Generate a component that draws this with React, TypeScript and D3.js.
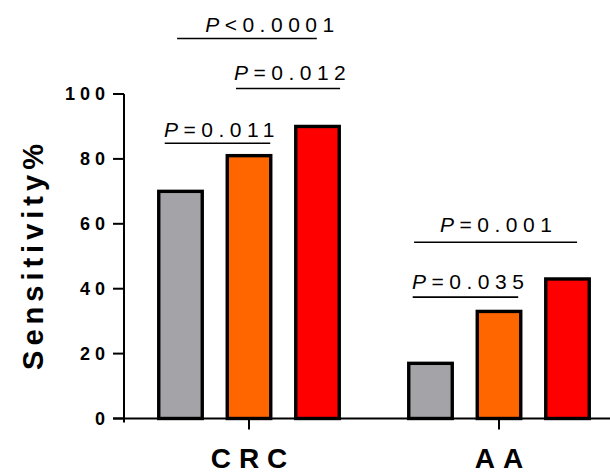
import React from 'react';
import * as d3 from 'd3';

// groups and series
const groups = ['CRC', 'AA'];
const series = ['s1', 's2', 's3'];
const colors = ['#a4a3a8', '#ff6600', '#ff0000'];

// sensitivity % per group, one value per series
const crcValues = [70, 81, 90];
const aaValues = [17, 33, 43];
const yTicks = [0, 20, 40, 60, 80, 100];

// p-value brackets: from/to/textX in bar steps relative to group centre, y in data units
const annGroup = ['CRC', 'CRC', 'CRC', 'AA', 'AA'];
const annOp = ['<', '=', '=', '=', '='];
const annP = ['0.0001', '0.012', '0.011', '0.001', '0.035'];
const annFrom = [-1.05, -0.19, -1.23, -1.24, -1.26];
const annTo = [0.99, 1.33, 0.31, 1.14, 0.28];
const annTextX = [-0.64, -0.22, -1.24, -0.86, -1.27];
const annLineY = [117.1, 101.7, 84.8, 54.3, 37.4];
const annTextY = [119.2, 104.2, 86.7, 57.4, 39.8];

const W = 610, H = 474;
const font = "Arial, 'Liberation Sans', Helvetica, sans-serif";

export default function App() {
  const x0 = d3.scaleBand().domain(groups).range([124, 624]);
  const x1 = d3.scaleBand().domain(series).range([-102.75, 102.75])
    .paddingInner(0.365).paddingOuter(0.1825);
  const y = d3.scaleLinear().domain([0, 100]).range([418.5, 94]);
  const off = d3.scaleLinear().domain([0, 1]).range([0, x1.step()]);

  const data = [crcValues, aaValues];
  const gc = (g: string) => (x0(g) as number) + x0.bandwidth() / 2;

  return (
    <svg width={W} height={H} style={{ position: 'absolute', left: 0, top: 0 }} fontFamily={font}>
      {/* bars */}
      {groups.map((g, gi) => (
        <g key={g} transform={`translate(${gc(g)},0)`}>
          {data[gi].map((v, i) => (
            <rect key={i}
              x={x1(series[i])}
              y={y(v)}
              width={x1.bandwidth()}
              height={y(0) - y(v)}
              fill={colors[i]}
              stroke="#000"
              strokeWidth={3.4} />
          ))}
        </g>
      ))}

      {/* y axis */}
      <line x1={124} x2={124} y1={y(100)} y2={y(0) + 4} stroke="#000" strokeWidth={2} />
      {yTicks.map(t => (
        <g key={t}>
          <line x1={113} x2={124} y1={y(t)} y2={y(t)} stroke="#000" strokeWidth={2} />
          <text x={105} y={y(t)} dy="0.36em" textAnchor="end" fontSize={18} fontWeight="bold"
            letterSpacing={5} dx={5}>{t}</text>
        </g>
      ))}

      {/* x axis */}
      <line x1={113} x2={W} y1={y(0)} y2={y(0)} stroke="#000" strokeWidth={2} />
      {groups.map(g => (
        <g key={g}>
          <line x1={gc(g)} x2={gc(g)} y1={y(0)} y2={y(0) + 11} stroke="#000" strokeWidth={2} />
          <text x={gc(g)} dx={4} y={468} textAnchor="middle" fontSize={28} fontWeight="bold"
            letterSpacing={8}>{g}</text>
        </g>
      ))}

      {/* y label */}
      <text transform={`translate(43,257) rotate(-90)`} textAnchor="middle" fontSize={29}
        fontWeight="bold" letterSpacing={5} dx={2.5}>Sensitivity%</text>

      {/* p-value annotations */}
      {annP.map((p, i) => {
        const c = gc(annGroup[i]);
        return (
          <g key={i}>
            <line x1={c + off(annFrom[i])} x2={c + off(annTo[i])} y1={y(annLineY[i])} y2={y(annLineY[i])}
              stroke="#000" strokeWidth={1.6} />
            <text x={c + off(annTextX[i])} y={y(annTextY[i])} fontSize={21} letterSpacing={5.5}>
              <tspan fontStyle="italic">P</tspan>{annOp[i] + p}
            </text>
          </g>
        );
      })}
    </svg>
  );
}
